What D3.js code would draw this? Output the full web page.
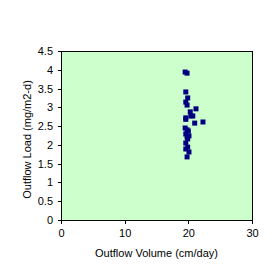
<!DOCTYPE html>
<html>
<head>
<meta charset="utf-8">
<script src="https://cdn.jsdelivr.net/npm/d3@7"></script>
<style>
  body { margin: 0; background: #fff; }
  text { font-family: "Liberation Sans", Arial, sans-serif; font-size: 11px; fill: #000; }
</style>
</head>
<body>
<script>
// outflow volume (cm/day) and outflow load (mg/m2-d)
var volume = [19.5, 19.8, 19.6, 19.9, 19.6, 19.8, 21.2, 20.3, 20.4, 20.7, 19.6, 19.6,
  21.0, 22.3, 19.5, 19.8, 20.0, 19.6, 20.1, 19.8, 19.9, 19.6, 19.9, 19.6, 20.1, 19.8];
var load = [3.94, 3.91, 3.41, 3.25, 3.14, 3.06, 2.96, 2.88, 2.77, 2.77, 2.72, 2.68,
  2.58, 2.61, 2.45, 2.40, 2.37, 2.29, 2.24, 2.21, 2.16, 2.05, 1.94, 1.89, 1.81, 1.68];
var xTicks = [0, 10, 20, 30];
var yTicks = [0, 0.5, 1, 1.5, 2, 2.5, 3, 3.5, 4, 4.5];

var svgWidth = 280, svgHeight = 269;
var margin = { top: 51, right: 28, bottom: 49, left: 61 };
var width = svgWidth - margin.left - margin.right;
var height = svgHeight - margin.top - margin.bottom;

var svg = d3.select("body").append("svg")
  .attr("width", svgWidth)
  .attr("height", svgHeight);

var chartGroup = svg.append("g")
  .attr("transform", `translate(${margin.left}, ${margin.top})`);

var x = d3.scaleLinear().domain([0, 30]).range([0, width]);
var y = d3.scaleLinear().domain([0, 4.5]).range([height, 0]);

// plot area
chartGroup.append("rect")
  .attr("x", 0).attr("y", 0)
  .attr("width", width).attr("height", height)
  .attr("fill", "#ccffcc")
  .attr("stroke", "#000")
  .attr("stroke-width", 1)
  .attr("shape-rendering", "crispEdges");

var xAxis = chartGroup.append("g")
  .attr("transform", `translate(0, ${height})`)
  .call(d3.axisBottom(x).tickValues(xTicks).tickSize(4).tickPadding(5).tickFormat(d3.format("d")));

var yAxis = chartGroup.append("g")
  .call(d3.axisLeft(y).tickValues(yTicks).tickSize(3).tickPadding(5).tickFormat(d => String(d)));

[xAxis, yAxis].forEach(function(a) {
  a.selectAll("path, line").attr("stroke", "#000").attr("shape-rendering", "crispEdges");
  a.selectAll("text").attr("font-size", 11).attr("font-family", "Liberation Sans, Arial, sans-serif");
});

// points
chartGroup.selectAll("rect.pt")
  .data(volume)
  .enter()
  .append("rect")
  .classed("pt", true)
  .attr("x", (d, i) => x(d) - 2.5)
  .attr("y", (d, i) => y(load[i]) - 2.5)
  .attr("width", 5)
  .attr("height", 5)
  .attr("fill", "#000080");

// axis titles
svg.append("text")
  .attr("x", margin.left + width / 2)
  .attr("y", 257)
  .attr("text-anchor", "middle")
  .text("Outflow Volume (cm/day)");

svg.append("text")
  .attr("transform", `translate(31, ${margin.top + height / 2 + 4}) rotate(-90)`)
  .attr("text-anchor", "middle")
  .text("Outflow Load (mg/m2-d)");
</script>
</body>
</html>
